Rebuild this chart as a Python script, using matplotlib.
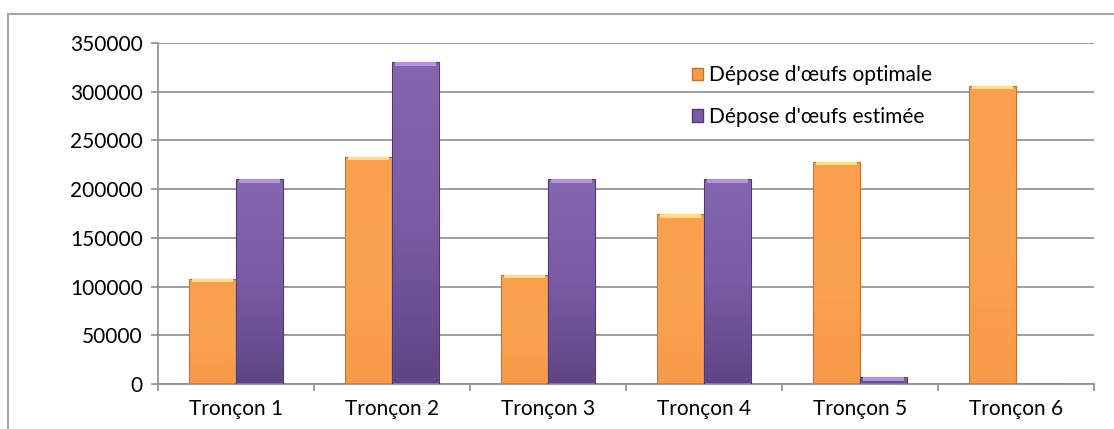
import numpy as np
import matplotlib.pyplot as plt
from matplotlib.colors import LinearSegmentedColormap
from matplotlib.lines import Line2D

# --- DATA ---
categories = ['Tronçon 1', 'Tronçon 2', 'Tronçon 3', 'Tronçon 4', 'Tronçon 5', 'Tronçon 6']
optimale = [108000, 233000, 112000, 174000, 228000, 306000]
estimee = [210000, 330000, 210000, 210000, 7000, 0]
series_labels = ["Dépose d'œufs optimale", "Dépose d'œufs estimée"]
yticks = [0, 50000, 100000, 150000, 200000, 250000, 300000, 350000]

plt.rcParams['font.family'] = ['Lato', 'DejaVu Sans']

fig = plt.figure(figsize=(11.14, 4.29), dpi=100)
ax = fig.add_axes([158 / 1114, 1 - 384 / 429, 936 / 1114, 341 / 429])

x = np.arange(len(categories))
w = 0.30

# gradients pour imiter le style Excel
cmaps = [
    LinearSegmentedColormap.from_list('o', ['#F89A48', '#FBA250', '#FA9F4D']),
    LinearSegmentedColormap.from_list('p', ['#5E4584', '#7A5BA4', '#8466B0']),
]
edges = ['#C8702E', '#4E3A70']

for k, (vals, off) in enumerate([(optimale, -w / 2), (estimee, w / 2)]):
    bars = ax.bar(x + off, vals, width=w, color='none', edgecolor=edges[k],
                  linewidth=0.8, zorder=3)
    for b in bars:
        h = b.get_height()
        if h <= 0:
            continue
        bx, bw = b.get_x(), b.get_width()
        grad = np.linspace(0, 1, 100).reshape(-1, 1)
        im = ax.imshow(grad, cmap=cmaps[k], aspect='auto', origin='lower',
                       extent=[bx, bx + bw, 0, h], zorder=2)
        im.set_clip_path(b)
        # liseré clair en haut
        top = min(h, 3500)
        ax.bar(bx + bw / 2, top, bottom=h - top, width=bw * 0.88,
               color='#FFDC85' if k == 0 else '#B194DC', linewidth=0, zorder=3)

ax.set_xlim(-0.5, len(categories) - 0.5)
ax.set_ylim(0, 350000)
ax.set_yticks(yticks)
ax.set_yticklabels([str(v) for v in yticks])
ax.set_xticks(x)
ax.set_xticklabels(categories)
ax.set_xticks(np.arange(len(categories) + 1) - 0.5, minor=True)

ax.grid(axis='y', color='#8C8C8C', linewidth=1.2, zorder=0)
ax.set_axisbelow(True)
for s in ['top', 'right']:
    ax.spines[s].set_visible(False)
for s in ['left', 'bottom']:
    ax.spines[s].set_color('#8C8C8C')
    ax.spines[s].set_linewidth(1.2)

ax.tick_params(axis='y', length=5, color='#8C8C8C', width=1.2, labelsize=15, pad=6)
ax.tick_params(axis='x', which='major', length=0, labelsize=15, pad=11)
ax.tick_params(axis='x', which='minor', length=5, color='#8C8C8C', width=1.2)

handles = [plt.Rectangle((0, 0), 1, 1, facecolor='#F79A48', edgecolor='#C8702E'),
           plt.Rectangle((0, 0), 1, 1, facecolor='#7A5BA4', edgecolor='#4E3A70')]
ax.legend(handles, series_labels, loc='upper left', bbox_to_anchor=(0.55, 0.99),
          frameon=False, fontsize=15, handlelength=0.55, handleheight=0.55,
          handletextpad=0.3, labelspacing=1.05)

# cadre extérieur du graphique
fig.add_artist(Line2D([8 / 1114, 1], [1 - 13.5 / 429] * 2, color='#A6A6A6', linewidth=1.5))
fig.add_artist(Line2D([8 / 1114] * 2, [0, 1 - 13.5 / 429], color='#A6A6A6', linewidth=1.5))

fig.savefig('out.png', dpi=100)
